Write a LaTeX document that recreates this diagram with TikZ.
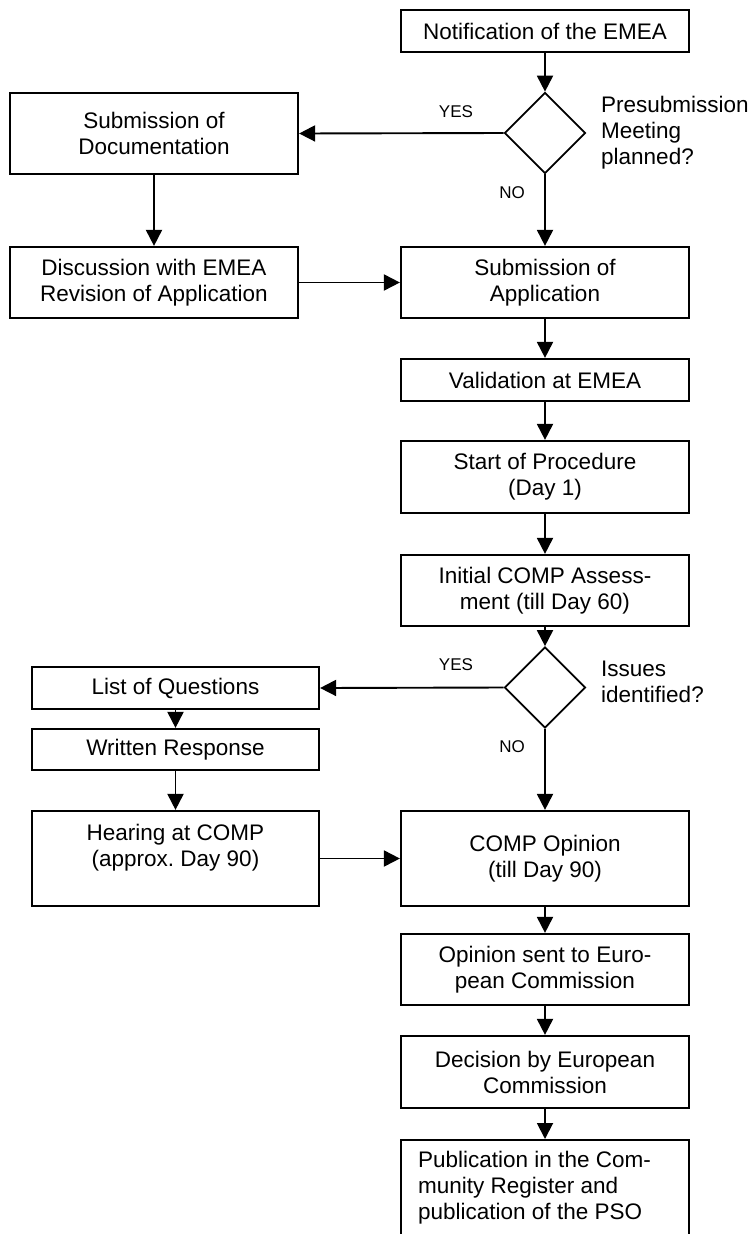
\documentclass[tikz,border=0pt]{standalone}
\usepackage{fontspec}
\setmainfont{Liberation Sans}
\frenchspacing
\usetikzlibrary{arrows.meta,shapes.geometric}
\begin{document}
\begin{tikzpicture}[x=1pt,y=-1pt,
  box/.style={draw,line width=2.2pt,minimum width=288pt,inner sep=0pt,align=center,
    font=\fontsize{22.5}{26}\selectfont},
  dia/.style={draw,diamond,line width=1.7pt,minimum width=81pt,minimum height=81pt,inner sep=0pt},
  txt/.style={inner sep=0pt,font=\fontsize{22.5}{26}\selectfont},
  lab/.style={inner sep=0pt,font=\fontsize{17}{20}\selectfont},
  arr/.style={line width=1.9pt,-{Triangle[length=16pt,width=16pt]}}]
\useasboundingbox (0,0) rectangle (751,1234);
\clip (0,0) rectangle (751,1234);
% right column
\node[box,minimum height=42pt] (notif) at (545,31) {Notification of the EMEA};
\node[dia] (dia1) at (545,133) {};
\node[txt,anchor=west,align=left] (q1) at (601,133) {Presubmission\\Meeting\\planned?};
\node[box,minimum height=71pt] (subapp) at (545,282.5) {Submission of\\Application};
\node[box,minimum height=42pt] (valid) at (545,380) {Validation at EMEA};
\node[box,minimum height=72pt] (start) at (545,477) {Start of Procedure\\(Day 1)};
\node[box,minimum height=71pt] (init) at (545,590.5) {Initial COMP Assess-\\ment (till Day 60)};
\node[dia] (dia2) at (545,687.5) {};
\node[txt,anchor=west,align=left] (q2) at (601,682) {Issues\\identified?};
\node[box,minimum height=95pt] (opin) at (545,858.5) {COMP Opinion\\(till Day 90)};
\node[box,minimum height=71pt] (sent) at (545,969.5) {Opinion sent to Euro-\\pean Commission};
\node[box,minimum height=72pt] (dec) at (545,1072) {Decision by European\\Commission};
\node[box,minimum height=130pt,anchor=north] (pub) at (545,1139) {};
\node[txt,anchor=west,align=left] (pubtext) at (418,1188) {Publication in the Com-\\munity Register and\\publication of the PSO};
% left column
\node[box,minimum height=81pt] (doc) at (154,133.5) {Submission of\\Documentation};
\node[box,minimum height=71pt] (disc) at (154,282.5) {Discussion with EMEA\\Revision of Application};
\node[box,minimum width=287pt,minimum height=42pt] (loq) at (175.5,688) {List of Questions};
\node[box,minimum width=287pt,minimum height=41pt] (wr) at (175.5,749.5) {Written Response};
\node[box,minimum width=287pt,minimum height=95pt] (hear) at (175.5,858.5) {Hearing at COMP\\(approx. Day 90)\\\mbox{}};
% labels
\node[lab] (yes1) at (456,112) {YES};
\node[lab] (no1) at (512,193) {NO};
\node[lab] (yes2) at (456,665) {YES};
\node[lab] (no2) at (512,747) {NO};
% connectors
\draw[arr] (notif.south) -- (dia1.north);
\draw[arr] (dia1.west) -- (doc.east);
\draw[arr] (dia1.south) -- (subapp.north);
\draw[arr] (doc.south) -- (disc.north);
\draw[arr] (disc.east) -- (subapp.west);
\draw[arr] (subapp.south) -- (valid.north);
\draw[arr] (valid.south) -- (start.north);
\draw[arr] (start.south) -- (init.north);
\draw[arr] (init.south) -- (dia2.north);
\draw[arr] (dia2.west) -- (loq.east);
\draw[arr] (dia2.south) -- (opin.north);
\draw[arr] (loq.south) -- (wr.north);
\draw[arr] (wr.south) -- (hear.north);
\draw[arr] (hear.east) -- (opin.west);
\draw[arr] (opin.south) -- (sent.north);
\draw[arr] (sent.south) -- (dec.north);
\draw[arr] (dec.south) -- (pub.north);
\end{tikzpicture}
\end{document}
